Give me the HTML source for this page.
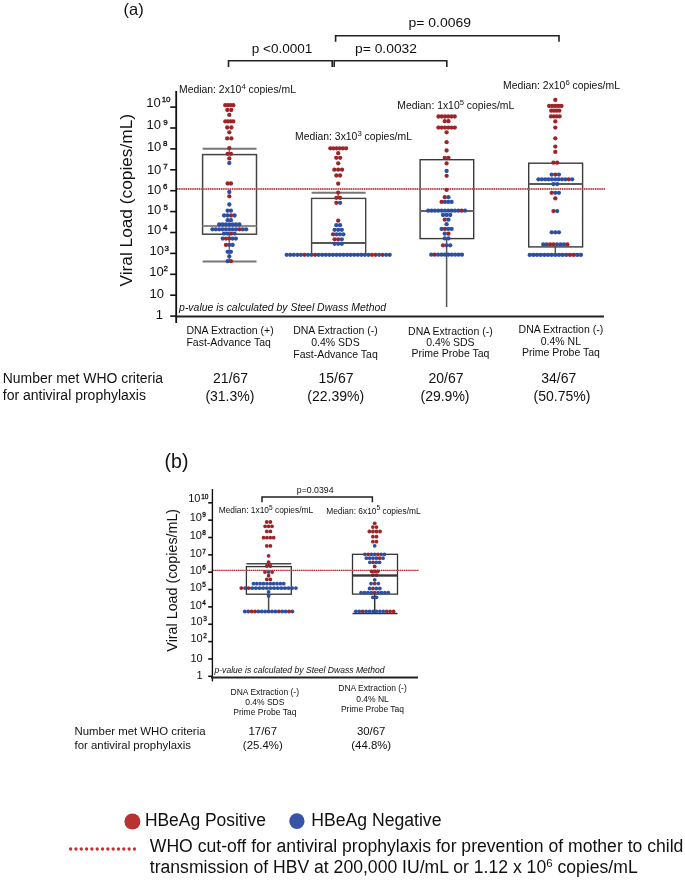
<!DOCTYPE html>
<html><head><meta charset="utf-8"><style>
html,body{margin:0;padding:0;background:#fff;}
body{width:685px;height:880px;overflow:hidden;}
svg{display:block;filter:blur(0.35px);font-family:"Liberation Sans", sans-serif;}
</style></head><body>
<svg width="685" height="880" viewBox="0 0 685 880">
<g fill="#111">
<text x="123.5" y="15.3" font-size="16.5">(a)</text>
<path d="M228.5 67.0 V60.8 H332.2 V67.0" fill="none" stroke="#222" stroke-width="1.6"/>
<path d="M334.2 67.0 V60.8 H446.8 V67.0" fill="none" stroke="#222" stroke-width="1.6"/>
<path d="M335.6 41.8 V35.8 H559.0 V41.8" fill="none" stroke="#222" stroke-width="1.6"/>
<text x="251.7" y="52.5" font-size="13.6" textLength="60.7" lengthAdjust="spacingAndGlyphs">p &lt;0.0001</text>
<text x="355.0" y="53.0" font-size="13.6" textLength="62.0" lengthAdjust="spacingAndGlyphs">p= 0.0032</text>
<text x="408.4" y="27.3" font-size="13.6" textLength="62.6" lengthAdjust="spacingAndGlyphs">p= 0.0069</text>
<text x="179.0" y="92.5" font-size="10.4">Median: 2x10<tspan dy="-4.0" font-size="7.7">4</tspan><tspan dy="4.0"> copies/mL</tspan></text>
<text x="295.0" y="139.6" font-size="10.4">Median: 3x10<tspan dy="-4.0" font-size="7.7">3</tspan><tspan dy="4.0"> copies/mL</tspan></text>
<text x="397.3" y="108.7" font-size="10.4">Median: 1x10<tspan dy="-4.0" font-size="7.7">5</tspan><tspan dy="4.0"> copies/mL</tspan></text>
<text x="503.0" y="89.0" font-size="10.4">Median: 2x10<tspan dy="-4.0" font-size="7.7">6</tspan><tspan dy="4.0"> copies/mL</tspan></text>
<line x1="176.2" y1="91" x2="176.2" y2="323" stroke="#111" stroke-width="1.8"/>
<line x1="170.2" y1="316.1" x2="176.2" y2="316.1" stroke="#111" stroke-width="1.6"/>
<line x1="170.2" y1="295.20000000000005" x2="176.2" y2="295.20000000000005" stroke="#111" stroke-width="1.6"/>
<line x1="170.2" y1="274.3" x2="176.2" y2="274.3" stroke="#111" stroke-width="1.6"/>
<line x1="170.2" y1="253.40000000000003" x2="176.2" y2="253.40000000000003" stroke="#111" stroke-width="1.6"/>
<line x1="170.2" y1="232.50000000000003" x2="176.2" y2="232.50000000000003" stroke="#111" stroke-width="1.6"/>
<line x1="170.2" y1="211.60000000000002" x2="176.2" y2="211.60000000000002" stroke="#111" stroke-width="1.6"/>
<line x1="170.2" y1="190.70000000000005" x2="176.2" y2="190.70000000000005" stroke="#111" stroke-width="1.6"/>
<line x1="170.2" y1="169.80000000000004" x2="176.2" y2="169.80000000000004" stroke="#111" stroke-width="1.6"/>
<line x1="170.2" y1="148.90000000000003" x2="176.2" y2="148.90000000000003" stroke="#111" stroke-width="1.6"/>
<line x1="170.2" y1="128.00000000000003" x2="176.2" y2="128.00000000000003" stroke="#111" stroke-width="1.6"/>
<line x1="170.2" y1="107.10000000000002" x2="176.2" y2="107.10000000000002" stroke="#111" stroke-width="1.6"/>
<text x="160.67" y="106.60" font-size="13.0" text-anchor="end">10</text>
<text x="161.63" y="102.02" font-size="8.0" stroke="#111" stroke-width="0.3">10</text>
<text x="160.97" y="129.40" font-size="13.0" text-anchor="end">10</text>
<text x="163.28" y="124.82" font-size="8.0" stroke="#111" stroke-width="0.3">9</text>
<text x="161.37" y="150.95" font-size="13.0" text-anchor="end">10</text>
<text x="162.88" y="146.37" font-size="8.0" stroke="#111" stroke-width="0.3">8</text>
<text x="161.37" y="173.50" font-size="13.0" text-anchor="end">10</text>
<text x="163.18" y="168.92" font-size="8.0" stroke="#111" stroke-width="0.3">7</text>
<text x="161.37" y="193.50" font-size="13.0" text-anchor="end">10</text>
<text x="162.88" y="188.92" font-size="8.0" stroke="#111" stroke-width="0.3">6</text>
<text x="161.37" y="214.25" font-size="13.0" text-anchor="end">10</text>
<text x="163.58" y="209.67" font-size="8.0" stroke="#111" stroke-width="0.3">5</text>
<text x="161.37" y="234.40" font-size="13.0" text-anchor="end">10</text>
<text x="162.88" y="229.82" font-size="8.0" stroke="#111" stroke-width="0.3">4</text>
<text x="164.07" y="255.16" font-size="13.0" text-anchor="end">10</text>
<text x="164.58" y="250.58" font-size="8.0" stroke="#111" stroke-width="0.3">3</text>
<text x="163.77" y="275.60" font-size="13.0" text-anchor="end">10</text>
<text x="163.58" y="271.02" font-size="8.0" stroke="#111" stroke-width="0.3">2</text>
<text x="164.07" y="298.10" font-size="13.0" text-anchor="end">10</text>
<text x="162.87" y="318.70" font-size="13.0" text-anchor="end">1</text>
<line x1="175" y1="316.6" x2="604" y2="316.6" stroke="#222" stroke-width="2"/>
<text transform="translate(132.3,200.25) rotate(-90)" font-size="17.3" text-anchor="middle">Viral Load (copies/mL)</text>
<text x="179.1" y="310.7" font-size="10.4" font-style="italic" textLength="207" lengthAdjust="spacingAndGlyphs">p-value is calculated by Steel Dwass Method</text>
<line x1="229.3" y1="148.8" x2="229.3" y2="154.6" stroke="#777" stroke-width="1.5"/>
<line x1="202.6" y1="148.8" x2="256.5" y2="148.8" stroke="#777" stroke-width="2"/>
<line x1="229.3" y1="234.2" x2="229.3" y2="261.4" stroke="#777" stroke-width="1.5"/>
<line x1="202.6" y1="261.4" x2="256.5" y2="261.4" stroke="#777" stroke-width="2"/>
<rect x="202.6" y="154.6" width="53.900000000000006" height="79.6" fill="none" stroke="#444" stroke-width="1.5"/>
<line x1="202.6" y1="226.0" x2="256.5" y2="226.0" stroke="#8a8a8a" stroke-width="2"/>
<line x1="338.2" y1="192.7" x2="338.2" y2="198.4" stroke="#777" stroke-width="1.5"/>
<line x1="311.6" y1="192.7" x2="365.7" y2="192.7" stroke="#777" stroke-width="2"/>
<line x1="338.2" y1="254.8" x2="338.2" y2="254.8" stroke="#777" stroke-width="1.5"/>
<line x1="311.6" y1="254.8" x2="365.7" y2="254.8" stroke="#777" stroke-width="2"/>
<rect x="311.6" y="198.4" width="54.099999999999966" height="56.400000000000006" fill="none" stroke="#444" stroke-width="1.4"/>
<line x1="311.6" y1="242.9" x2="365.7" y2="242.9" stroke="#555" stroke-width="2"/>
<line x1="446.6" y1="238.6" x2="446.6" y2="307.0" stroke="#555" stroke-width="1.5"/>
<rect x="420.1" y="159.7" width="53.599999999999966" height="78.9" fill="none" stroke="#3a3a3a" stroke-width="1.4"/>
<line x1="420.1" y1="211.0" x2="473.7" y2="211.0" stroke="#666" stroke-width="2"/>
<line x1="555.3" y1="246.9" x2="555.3" y2="254.5" stroke="#555" stroke-width="1.5"/>
<line x1="528.7" y1="254.5" x2="582.6" y2="254.5" stroke="#555" stroke-width="2"/>
<rect x="528.7" y="163.2" width="53.89999999999998" height="83.70000000000002" fill="none" stroke="#3a3a3a" stroke-width="1.4"/>
<line x1="528.7" y1="184.0" x2="582.6" y2="184.0" stroke="#5a5a5a" stroke-width="2"/>
<line x1="177" y1="189.0" x2="605" y2="189.0" stroke="#d88a8a" stroke-width="1.1"/>
<line x1="177" y1="189.0" x2="605" y2="189.0" stroke="#ab2428" stroke-width="1.4" stroke-dasharray="1.2 1"/>
</g>
<circle cx="225.30" cy="105.2" r="2.15" fill="#9e2428"/>
<circle cx="227.97" cy="105.2" r="2.15" fill="#9e2428"/>
<circle cx="230.63" cy="105.2" r="2.15" fill="#9e2428"/>
<circle cx="233.30" cy="105.2" r="2.15" fill="#9e2428"/>
<circle cx="227.35" cy="110.0" r="2.15" fill="#9e2428"/>
<circle cx="231.25" cy="110.0" r="2.15" fill="#9e2428"/>
<circle cx="229.30" cy="114.9" r="2.15" fill="#9e2428"/>
<circle cx="225.30" cy="121.4" r="2.15" fill="#9e2428"/>
<circle cx="227.97" cy="121.4" r="2.15" fill="#9e2428"/>
<circle cx="230.63" cy="121.4" r="2.15" fill="#9e2428"/>
<circle cx="233.30" cy="121.4" r="2.15" fill="#9e2428"/>
<circle cx="227.20" cy="127.5" r="2.15" fill="#9e2428"/>
<circle cx="231.40" cy="127.5" r="2.15" fill="#9e2428"/>
<circle cx="229.30" cy="132.3" r="2.15" fill="#9e2428"/>
<circle cx="227.20" cy="138.4" r="2.15" fill="#9e2428"/>
<circle cx="231.40" cy="138.4" r="2.15" fill="#9e2428"/>
<circle cx="229.30" cy="148.1" r="2.15" fill="#9e2428"/>
<circle cx="227.65" cy="153.8" r="2.15" fill="#9e2428"/>
<circle cx="230.95" cy="153.8" r="2.15" fill="#9e2428"/>
<circle cx="229.30" cy="158.4" r="2.15" fill="#9e2428"/>
<circle cx="229.30" cy="163.0" r="2.15" fill="#2c4fa3"/>
<circle cx="227.65" cy="183.5" r="2.15" fill="#9e2428"/>
<circle cx="230.95" cy="183.5" r="2.15" fill="#9e2428"/>
<circle cx="229.30" cy="192.0" r="2.15" fill="#2c4fa3"/>
<circle cx="229.30" cy="196.3" r="2.15" fill="#9e2428"/>
<circle cx="229.30" cy="204.5" r="2.15" fill="#2c4fa3"/>
<circle cx="227.65" cy="210.7" r="2.15" fill="#2c4fa3"/>
<circle cx="230.95" cy="210.7" r="2.15" fill="#2c4fa3"/>
<circle cx="224.05" cy="215.5" r="2.15" fill="#2c4fa3"/>
<circle cx="227.55" cy="215.5" r="2.15" fill="#2c4fa3"/>
<circle cx="231.05" cy="215.5" r="2.15" fill="#9e2428"/>
<circle cx="234.55" cy="215.5" r="2.15" fill="#2c4fa3"/>
<circle cx="227.65" cy="220.2" r="2.15" fill="#2c4fa3"/>
<circle cx="230.95" cy="220.2" r="2.15" fill="#2c4fa3"/>
<circle cx="219.20" cy="224.5" r="2.15" fill="#2c4fa3"/>
<circle cx="222.57" cy="224.5" r="2.15" fill="#2c4fa3"/>
<circle cx="225.93" cy="224.5" r="2.15" fill="#2c4fa3"/>
<circle cx="229.30" cy="224.5" r="2.15" fill="#2c4fa3"/>
<circle cx="232.67" cy="224.5" r="2.15" fill="#2c4fa3"/>
<circle cx="236.03" cy="224.5" r="2.15" fill="#2c4fa3"/>
<circle cx="239.40" cy="224.5" r="2.15" fill="#2c4fa3"/>
<circle cx="212.45" cy="229.3" r="2.15" fill="#2c4fa3"/>
<circle cx="215.82" cy="229.3" r="2.15" fill="#2c4fa3"/>
<circle cx="219.19" cy="229.3" r="2.15" fill="#2c4fa3"/>
<circle cx="222.56" cy="229.3" r="2.15" fill="#2c4fa3"/>
<circle cx="225.93" cy="229.3" r="2.15" fill="#2c4fa3"/>
<circle cx="229.30" cy="229.3" r="2.15" fill="#2c4fa3"/>
<circle cx="232.67" cy="229.3" r="2.15" fill="#2c4fa3"/>
<circle cx="236.04" cy="229.3" r="2.15" fill="#2c4fa3"/>
<circle cx="239.41" cy="229.3" r="2.15" fill="#9e2428"/>
<circle cx="242.78" cy="229.3" r="2.15" fill="#2c4fa3"/>
<circle cx="246.15" cy="229.3" r="2.15" fill="#2c4fa3"/>
<circle cx="224.05" cy="233.6" r="2.15" fill="#2c4fa3"/>
<circle cx="227.55" cy="233.6" r="2.15" fill="#2c4fa3"/>
<circle cx="231.05" cy="233.6" r="2.15" fill="#9e2428"/>
<circle cx="234.55" cy="233.6" r="2.15" fill="#2c4fa3"/>
<circle cx="222.75" cy="238.6" r="2.15" fill="#2c4fa3"/>
<circle cx="226.03" cy="238.6" r="2.15" fill="#9e2428"/>
<circle cx="229.30" cy="238.6" r="2.15" fill="#9e2428"/>
<circle cx="232.57" cy="238.6" r="2.15" fill="#2c4fa3"/>
<circle cx="235.85" cy="238.6" r="2.15" fill="#2c4fa3"/>
<circle cx="225.95" cy="244.9" r="2.15" fill="#9e2428"/>
<circle cx="229.30" cy="244.9" r="2.15" fill="#2c4fa3"/>
<circle cx="232.65" cy="244.9" r="2.15" fill="#2c4fa3"/>
<circle cx="227.65" cy="251.8" r="2.15" fill="#2c4fa3"/>
<circle cx="230.95" cy="251.8" r="2.15" fill="#2c4fa3"/>
<circle cx="229.30" cy="256.4" r="2.15" fill="#2c4fa3"/>
<circle cx="227.65" cy="261.2" r="2.15" fill="#2c4fa3"/>
<circle cx="230.95" cy="261.2" r="2.15" fill="#9e2428"/>
<circle cx="330.35" cy="148.3" r="2.15" fill="#9e2428"/>
<circle cx="333.49" cy="148.3" r="2.15" fill="#9e2428"/>
<circle cx="336.63" cy="148.3" r="2.15" fill="#9e2428"/>
<circle cx="339.77" cy="148.3" r="2.15" fill="#9e2428"/>
<circle cx="342.91" cy="148.3" r="2.15" fill="#9e2428"/>
<circle cx="346.05" cy="148.3" r="2.15" fill="#9e2428"/>
<circle cx="338.20" cy="153.2" r="2.15" fill="#9e2428"/>
<circle cx="336.25" cy="157.8" r="2.15" fill="#9e2428"/>
<circle cx="340.15" cy="157.8" r="2.15" fill="#9e2428"/>
<circle cx="338.20" cy="163.3" r="2.15" fill="#9e2428"/>
<circle cx="334.35" cy="169.7" r="2.15" fill="#9e2428"/>
<circle cx="338.20" cy="169.7" r="2.15" fill="#9e2428"/>
<circle cx="342.05" cy="169.7" r="2.15" fill="#9e2428"/>
<circle cx="336.35" cy="175.5" r="2.15" fill="#9e2428"/>
<circle cx="340.05" cy="175.5" r="2.15" fill="#9e2428"/>
<circle cx="338.20" cy="183.7" r="2.15" fill="#9e2428"/>
<circle cx="338.20" cy="192.6" r="2.15" fill="#9e2428"/>
<circle cx="336.35" cy="197.8" r="2.15" fill="#9e2428"/>
<circle cx="340.05" cy="197.8" r="2.15" fill="#9e2428"/>
<circle cx="336.35" cy="202.8" r="2.15" fill="#9e2428"/>
<circle cx="340.05" cy="202.8" r="2.15" fill="#2c4fa3"/>
<circle cx="338.20" cy="220.7" r="2.15" fill="#9e2428"/>
<circle cx="336.35" cy="225.2" r="2.15" fill="#2c4fa3"/>
<circle cx="340.05" cy="225.2" r="2.15" fill="#2c4fa3"/>
<circle cx="334.60" cy="229.8" r="2.15" fill="#2c4fa3"/>
<circle cx="338.20" cy="229.8" r="2.15" fill="#2c4fa3"/>
<circle cx="341.80" cy="229.8" r="2.15" fill="#2c4fa3"/>
<circle cx="333.05" cy="234.3" r="2.15" fill="#9e2428"/>
<circle cx="336.48" cy="234.3" r="2.15" fill="#2c4fa3"/>
<circle cx="339.92" cy="234.3" r="2.15" fill="#2c4fa3"/>
<circle cx="343.35" cy="234.3" r="2.15" fill="#2c4fa3"/>
<circle cx="334.60" cy="239.3" r="2.15" fill="#9e2428"/>
<circle cx="338.20" cy="239.3" r="2.15" fill="#9e2428"/>
<circle cx="341.80" cy="239.3" r="2.15" fill="#2c4fa3"/>
<circle cx="334.60" cy="243.8" r="2.15" fill="#2c4fa3"/>
<circle cx="338.20" cy="243.8" r="2.15" fill="#2c4fa3"/>
<circle cx="341.80" cy="243.8" r="2.15" fill="#2c4fa3"/>
<circle cx="286.70" cy="254.8" r="2.15" fill="#2c4fa3"/>
<circle cx="290.25" cy="254.8" r="2.15" fill="#2c4fa3"/>
<circle cx="293.80" cy="254.8" r="2.15" fill="#2c4fa3"/>
<circle cx="297.36" cy="254.8" r="2.15" fill="#2c4fa3"/>
<circle cx="300.91" cy="254.8" r="2.15" fill="#2c4fa3"/>
<circle cx="304.46" cy="254.8" r="2.15" fill="#9e2428"/>
<circle cx="308.01" cy="254.8" r="2.15" fill="#2c4fa3"/>
<circle cx="311.56" cy="254.8" r="2.15" fill="#2c4fa3"/>
<circle cx="315.11" cy="254.8" r="2.15" fill="#9e2428"/>
<circle cx="318.67" cy="254.8" r="2.15" fill="#2c4fa3"/>
<circle cx="322.22" cy="254.8" r="2.15" fill="#2c4fa3"/>
<circle cx="325.77" cy="254.8" r="2.15" fill="#2c4fa3"/>
<circle cx="329.32" cy="254.8" r="2.15" fill="#2c4fa3"/>
<circle cx="332.87" cy="254.8" r="2.15" fill="#2c4fa3"/>
<circle cx="336.42" cy="254.8" r="2.15" fill="#2c4fa3"/>
<circle cx="339.98" cy="254.8" r="2.15" fill="#2c4fa3"/>
<circle cx="343.53" cy="254.8" r="2.15" fill="#2c4fa3"/>
<circle cx="347.08" cy="254.8" r="2.15" fill="#2c4fa3"/>
<circle cx="350.63" cy="254.8" r="2.15" fill="#2c4fa3"/>
<circle cx="354.18" cy="254.8" r="2.15" fill="#2c4fa3"/>
<circle cx="357.73" cy="254.8" r="2.15" fill="#2c4fa3"/>
<circle cx="361.29" cy="254.8" r="2.15" fill="#2c4fa3"/>
<circle cx="364.84" cy="254.8" r="2.15" fill="#2c4fa3"/>
<circle cx="368.39" cy="254.8" r="2.15" fill="#2c4fa3"/>
<circle cx="371.94" cy="254.8" r="2.15" fill="#9e2428"/>
<circle cx="375.49" cy="254.8" r="2.15" fill="#9e2428"/>
<circle cx="379.04" cy="254.8" r="2.15" fill="#2c4fa3"/>
<circle cx="382.60" cy="254.8" r="2.15" fill="#9e2428"/>
<circle cx="386.15" cy="254.8" r="2.15" fill="#2c4fa3"/>
<circle cx="389.70" cy="254.8" r="2.15" fill="#2c4fa3"/>
<circle cx="438.50" cy="116.5" r="2.15" fill="#9e2428"/>
<circle cx="441.74" cy="116.5" r="2.15" fill="#9e2428"/>
<circle cx="444.98" cy="116.5" r="2.15" fill="#9e2428"/>
<circle cx="448.22" cy="116.5" r="2.15" fill="#9e2428"/>
<circle cx="451.46" cy="116.5" r="2.15" fill="#9e2428"/>
<circle cx="454.70" cy="116.5" r="2.15" fill="#9e2428"/>
<circle cx="444.75" cy="121.2" r="2.15" fill="#9e2428"/>
<circle cx="448.45" cy="121.2" r="2.15" fill="#9e2428"/>
<circle cx="438.40" cy="127.6" r="2.15" fill="#9e2428"/>
<circle cx="441.68" cy="127.6" r="2.15" fill="#9e2428"/>
<circle cx="444.96" cy="127.6" r="2.15" fill="#9e2428"/>
<circle cx="448.24" cy="127.6" r="2.15" fill="#9e2428"/>
<circle cx="451.52" cy="127.6" r="2.15" fill="#9e2428"/>
<circle cx="454.80" cy="127.6" r="2.15" fill="#9e2428"/>
<circle cx="446.60" cy="132.3" r="2.15" fill="#9e2428"/>
<circle cx="446.60" cy="142.2" r="2.15" fill="#9e2428"/>
<circle cx="446.60" cy="150.5" r="2.15" fill="#9e2428"/>
<circle cx="444.75" cy="157.8" r="2.15" fill="#9e2428"/>
<circle cx="448.45" cy="157.8" r="2.15" fill="#9e2428"/>
<circle cx="446.60" cy="163.4" r="2.15" fill="#9e2428"/>
<circle cx="446.60" cy="171.0" r="2.15" fill="#2c4fa3"/>
<circle cx="446.60" cy="175.8" r="2.15" fill="#9e2428"/>
<circle cx="446.60" cy="189.9" r="2.15" fill="#9e2428"/>
<circle cx="444.75" cy="197.2" r="2.15" fill="#9e2428"/>
<circle cx="448.45" cy="197.2" r="2.15" fill="#2c4fa3"/>
<circle cx="441.60" cy="201.9" r="2.15" fill="#9e2428"/>
<circle cx="444.93" cy="201.9" r="2.15" fill="#2c4fa3"/>
<circle cx="448.27" cy="201.9" r="2.15" fill="#2c4fa3"/>
<circle cx="451.60" cy="201.9" r="2.15" fill="#2c4fa3"/>
<circle cx="428.20" cy="210.7" r="2.15" fill="#2c4fa3"/>
<circle cx="431.55" cy="210.7" r="2.15" fill="#2c4fa3"/>
<circle cx="434.89" cy="210.7" r="2.15" fill="#2c4fa3"/>
<circle cx="438.24" cy="210.7" r="2.15" fill="#2c4fa3"/>
<circle cx="441.58" cy="210.7" r="2.15" fill="#2c4fa3"/>
<circle cx="444.93" cy="210.7" r="2.15" fill="#2c4fa3"/>
<circle cx="448.27" cy="210.7" r="2.15" fill="#2c4fa3"/>
<circle cx="451.62" cy="210.7" r="2.15" fill="#2c4fa3"/>
<circle cx="454.96" cy="210.7" r="2.15" fill="#2c4fa3"/>
<circle cx="458.31" cy="210.7" r="2.15" fill="#2c4fa3"/>
<circle cx="461.65" cy="210.7" r="2.15" fill="#9e2428"/>
<circle cx="465.00" cy="210.7" r="2.15" fill="#2c4fa3"/>
<circle cx="443.00" cy="215.0" r="2.15" fill="#2c4fa3"/>
<circle cx="446.60" cy="215.0" r="2.15" fill="#2c4fa3"/>
<circle cx="450.20" cy="215.0" r="2.15" fill="#2c4fa3"/>
<circle cx="444.75" cy="219.7" r="2.15" fill="#9e2428"/>
<circle cx="448.45" cy="219.7" r="2.15" fill="#2c4fa3"/>
<circle cx="446.60" cy="224.2" r="2.15" fill="#2c4fa3"/>
<circle cx="441.60" cy="228.9" r="2.15" fill="#2c4fa3"/>
<circle cx="444.93" cy="228.9" r="2.15" fill="#9e2428"/>
<circle cx="448.27" cy="228.9" r="2.15" fill="#2c4fa3"/>
<circle cx="451.60" cy="228.9" r="2.15" fill="#2c4fa3"/>
<circle cx="444.75" cy="233.7" r="2.15" fill="#2c4fa3"/>
<circle cx="448.45" cy="233.7" r="2.15" fill="#9e2428"/>
<circle cx="444.75" cy="238.4" r="2.15" fill="#2c4fa3"/>
<circle cx="448.45" cy="238.4" r="2.15" fill="#2c4fa3"/>
<circle cx="443.00" cy="245.3" r="2.15" fill="#9e2428"/>
<circle cx="446.60" cy="245.3" r="2.15" fill="#2c4fa3"/>
<circle cx="450.20" cy="245.3" r="2.15" fill="#2c4fa3"/>
<circle cx="431.25" cy="254.7" r="2.15" fill="#2c4fa3"/>
<circle cx="434.66" cy="254.7" r="2.15" fill="#9e2428"/>
<circle cx="438.07" cy="254.7" r="2.15" fill="#2c4fa3"/>
<circle cx="441.48" cy="254.7" r="2.15" fill="#2c4fa3"/>
<circle cx="444.89" cy="254.7" r="2.15" fill="#2c4fa3"/>
<circle cx="448.31" cy="254.7" r="2.15" fill="#2c4fa3"/>
<circle cx="451.72" cy="254.7" r="2.15" fill="#2c4fa3"/>
<circle cx="455.13" cy="254.7" r="2.15" fill="#2c4fa3"/>
<circle cx="458.54" cy="254.7" r="2.15" fill="#2c4fa3"/>
<circle cx="461.95" cy="254.7" r="2.15" fill="#2c4fa3"/>
<circle cx="555.30" cy="99.9" r="2.15" fill="#9e2428"/>
<circle cx="549.15" cy="106.0" r="2.15" fill="#9e2428"/>
<circle cx="552.22" cy="106.0" r="2.15" fill="#9e2428"/>
<circle cx="555.30" cy="106.0" r="2.15" fill="#9e2428"/>
<circle cx="558.38" cy="106.0" r="2.15" fill="#9e2428"/>
<circle cx="561.45" cy="106.0" r="2.15" fill="#9e2428"/>
<circle cx="551.25" cy="110.7" r="2.15" fill="#9e2428"/>
<circle cx="553.95" cy="110.7" r="2.15" fill="#9e2428"/>
<circle cx="556.65" cy="110.7" r="2.15" fill="#9e2428"/>
<circle cx="559.35" cy="110.7" r="2.15" fill="#9e2428"/>
<circle cx="551.00" cy="116.4" r="2.15" fill="#9e2428"/>
<circle cx="553.87" cy="116.4" r="2.15" fill="#9e2428"/>
<circle cx="556.73" cy="116.4" r="2.15" fill="#9e2428"/>
<circle cx="559.60" cy="116.4" r="2.15" fill="#9e2428"/>
<circle cx="555.30" cy="121.4" r="2.15" fill="#9e2428"/>
<circle cx="555.30" cy="127.6" r="2.15" fill="#9e2428"/>
<circle cx="555.30" cy="138.3" r="2.15" fill="#9e2428"/>
<circle cx="555.30" cy="146.6" r="2.15" fill="#9e2428"/>
<circle cx="555.30" cy="151.9" r="2.15" fill="#9e2428"/>
<circle cx="553.45" cy="162.7" r="2.15" fill="#9e2428"/>
<circle cx="557.15" cy="162.7" r="2.15" fill="#9e2428"/>
<circle cx="551.70" cy="174.6" r="2.15" fill="#2c4fa3"/>
<circle cx="555.30" cy="174.6" r="2.15" fill="#9e2428"/>
<circle cx="558.90" cy="174.6" r="2.15" fill="#2c4fa3"/>
<circle cx="538.45" cy="179.3" r="2.15" fill="#2c4fa3"/>
<circle cx="541.82" cy="179.3" r="2.15" fill="#2c4fa3"/>
<circle cx="545.19" cy="179.3" r="2.15" fill="#2c4fa3"/>
<circle cx="548.56" cy="179.3" r="2.15" fill="#2c4fa3"/>
<circle cx="551.93" cy="179.3" r="2.15" fill="#2c4fa3"/>
<circle cx="555.30" cy="179.3" r="2.15" fill="#2c4fa3"/>
<circle cx="558.67" cy="179.3" r="2.15" fill="#2c4fa3"/>
<circle cx="562.04" cy="179.3" r="2.15" fill="#2c4fa3"/>
<circle cx="565.41" cy="179.3" r="2.15" fill="#2c4fa3"/>
<circle cx="568.78" cy="179.3" r="2.15" fill="#9e2428"/>
<circle cx="572.15" cy="179.3" r="2.15" fill="#2c4fa3"/>
<circle cx="553.45" cy="184.1" r="2.15" fill="#2c4fa3"/>
<circle cx="557.15" cy="184.1" r="2.15" fill="#2c4fa3"/>
<circle cx="551.70" cy="192.8" r="2.15" fill="#9e2428"/>
<circle cx="555.30" cy="192.8" r="2.15" fill="#2c4fa3"/>
<circle cx="558.90" cy="192.8" r="2.15" fill="#2c4fa3"/>
<circle cx="555.30" cy="198.4" r="2.15" fill="#9e2428"/>
<circle cx="553.45" cy="211.1" r="2.15" fill="#9e2428"/>
<circle cx="557.15" cy="211.1" r="2.15" fill="#2c4fa3"/>
<circle cx="551.70" cy="232.3" r="2.15" fill="#2c4fa3"/>
<circle cx="555.30" cy="232.3" r="2.15" fill="#2c4fa3"/>
<circle cx="558.90" cy="232.3" r="2.15" fill="#2c4fa3"/>
<circle cx="543.20" cy="244.4" r="2.15" fill="#2c4fa3"/>
<circle cx="546.66" cy="244.4" r="2.15" fill="#2c4fa3"/>
<circle cx="550.11" cy="244.4" r="2.15" fill="#9e2428"/>
<circle cx="553.57" cy="244.4" r="2.15" fill="#9e2428"/>
<circle cx="557.03" cy="244.4" r="2.15" fill="#2c4fa3"/>
<circle cx="560.49" cy="244.4" r="2.15" fill="#2c4fa3"/>
<circle cx="563.94" cy="244.4" r="2.15" fill="#2c4fa3"/>
<circle cx="567.40" cy="244.4" r="2.15" fill="#9e2428"/>
<circle cx="529.70" cy="254.9" r="2.15" fill="#2c4fa3"/>
<circle cx="533.36" cy="254.9" r="2.15" fill="#2c4fa3"/>
<circle cx="537.01" cy="254.9" r="2.15" fill="#2c4fa3"/>
<circle cx="540.67" cy="254.9" r="2.15" fill="#2c4fa3"/>
<circle cx="544.33" cy="254.9" r="2.15" fill="#2c4fa3"/>
<circle cx="547.99" cy="254.9" r="2.15" fill="#2c4fa3"/>
<circle cx="551.64" cy="254.9" r="2.15" fill="#2c4fa3"/>
<circle cx="555.30" cy="254.9" r="2.15" fill="#2c4fa3"/>
<circle cx="558.96" cy="254.9" r="2.15" fill="#2c4fa3"/>
<circle cx="562.61" cy="254.9" r="2.15" fill="#2c4fa3"/>
<circle cx="566.27" cy="254.9" r="2.15" fill="#2c4fa3"/>
<circle cx="569.93" cy="254.9" r="2.15" fill="#9e2428"/>
<circle cx="573.59" cy="254.9" r="2.15" fill="#9e2428"/>
<circle cx="577.24" cy="254.9" r="2.15" fill="#2c4fa3"/>
<circle cx="580.90" cy="254.9" r="2.15" fill="#2c4fa3"/>
<g fill="#111">
<text x="186.4" y="334.0" font-size="10.5">DNA Extraction (+)</text>
<text x="186.4" y="346.3" font-size="10.5">Fast-Advance Taq</text>
<text x="335.5" y="334.4" font-size="10.5" text-anchor="middle">DNA Extraction (-)</text>
<text x="335.5" y="346.1" font-size="10.5" text-anchor="middle">0.4% SDS</text>
<text x="335.5" y="358.2" font-size="10.5" text-anchor="middle">Fast-Advance Taq</text>
<text x="450.4" y="334.5" font-size="10.5" text-anchor="middle">DNA Extraction (-)</text>
<text x="450.4" y="345.9" font-size="10.5" text-anchor="middle">0.4% SDS</text>
<text x="450.4" y="357.2" font-size="10.5" text-anchor="middle">Prime Probe Taq</text>
<text x="560.9" y="332.9" font-size="10.5" text-anchor="middle">DNA Extraction (-)</text>
<text x="560.9" y="344.7" font-size="10.5" text-anchor="middle">0.4% NL</text>
<text x="560.9" y="356.2" font-size="10.5" text-anchor="middle">Prime Probe Taq</text>
<text x="2.8" y="382.6" font-size="14" textLength="160.2" lengthAdjust="spacingAndGlyphs">Number met WHO criteria</text>
<text x="2.8" y="400.0" font-size="14">for antiviral prophylaxis</text>
<text x="230.6" y="382.9" font-size="14" text-anchor="middle">21/67</text>
<text x="229.9" y="400.6" font-size="14" text-anchor="middle">(31.3%)</text>
<text x="336.0" y="382.9" font-size="14" text-anchor="middle">15/67</text>
<text x="335.7" y="400.6" font-size="14" text-anchor="middle">(22.39%)</text>
<text x="446.0" y="382.9" font-size="14" text-anchor="middle">20/67</text>
<text x="445.0" y="400.6" font-size="14" text-anchor="middle">(29.9%)</text>
<text x="558.8" y="382.9" font-size="14" text-anchor="middle">34/67</text>
<text x="562.0" y="400.6" font-size="14" text-anchor="middle">(50.75%)</text>
<text x="164.6" y="467.7" font-size="19.5">(b)</text>
<path d="M262.0 502.2 V497.0 H372.4 V502.2" fill="none" stroke="#222" stroke-width="1.5"/>
<text x="296.8" y="493.1" font-size="9.9" textLength="36.8" lengthAdjust="spacingAndGlyphs">p=0.0394</text>
<text x="218.7" y="512.8" font-size="8.4">Median: 1x10<tspan dy="-3.2" font-size="6.6">5</tspan><tspan dy="3.2"> copies/mL</tspan></text>
<text x="326.2" y="513.6" font-size="8.4">Median: 6x10<tspan dy="-3.2" font-size="6.6">5</tspan><tspan dy="3.2"> copies/mL</tspan></text>
<line x1="212.4" y1="489" x2="212.4" y2="681.4" stroke="#111" stroke-width="1.4"/>
<line x1="208.20000000000002" y1="676.3" x2="212.4" y2="676.3" stroke="#111" stroke-width="1.6"/>
<line x1="208.20000000000002" y1="658.9499999999999" x2="212.4" y2="658.9499999999999" stroke="#111" stroke-width="1.6"/>
<line x1="208.20000000000002" y1="641.5999999999999" x2="212.4" y2="641.5999999999999" stroke="#111" stroke-width="1.6"/>
<line x1="208.20000000000002" y1="624.25" x2="212.4" y2="624.25" stroke="#111" stroke-width="1.6"/>
<line x1="208.20000000000002" y1="606.9" x2="212.4" y2="606.9" stroke="#111" stroke-width="1.6"/>
<line x1="208.20000000000002" y1="589.55" x2="212.4" y2="589.55" stroke="#111" stroke-width="1.6"/>
<line x1="208.20000000000002" y1="572.1999999999999" x2="212.4" y2="572.1999999999999" stroke="#111" stroke-width="1.6"/>
<line x1="208.20000000000002" y1="554.8499999999999" x2="212.4" y2="554.8499999999999" stroke="#111" stroke-width="1.6"/>
<line x1="208.20000000000002" y1="537.5" x2="212.4" y2="537.5" stroke="#111" stroke-width="1.6"/>
<line x1="208.20000000000002" y1="520.15" x2="212.4" y2="520.15" stroke="#111" stroke-width="1.6"/>
<line x1="208.20000000000002" y1="502.79999999999995" x2="212.4" y2="502.79999999999995" stroke="#111" stroke-width="1.6"/>
<text x="200.38" y="502.30" font-size="11" text-anchor="end">10</text>
<text x="201.19" y="498.58" font-size="6.5" stroke="#111" stroke-width="0.3">10</text>
<text x="202.68" y="678.70" font-size="11" text-anchor="end">1</text>
<text x="202.68" y="661.60" font-size="11" text-anchor="end">10</text>
<text x="202.68" y="642.00" font-size="11" text-anchor="end">10</text>
<text x="203.24" y="638.28" font-size="6.5" stroke="#111" stroke-width="0.3">2</text>
<text x="202.68" y="624.90" font-size="11" text-anchor="end">10</text>
<text x="203.24" y="621.18" font-size="6.5" stroke="#111" stroke-width="0.3">3</text>
<text x="201.88" y="608.60" font-size="11" text-anchor="end">10</text>
<text x="202.24" y="604.88" font-size="6.5" stroke="#111" stroke-width="0.3">4</text>
<text x="201.88" y="591.20" font-size="11" text-anchor="end">10</text>
<text x="202.24" y="587.48" font-size="6.5" stroke="#111" stroke-width="0.3">5</text>
<text x="201.88" y="573.60" font-size="11" text-anchor="end">10</text>
<text x="202.24" y="569.88" font-size="6.5" stroke="#111" stroke-width="0.3">6</text>
<text x="201.88" y="557.40" font-size="11" text-anchor="end">10</text>
<text x="202.24" y="553.68" font-size="6.5" stroke="#111" stroke-width="0.3">7</text>
<text x="201.88" y="538.90" font-size="11" text-anchor="end">10</text>
<text x="202.24" y="535.18" font-size="6.5" stroke="#111" stroke-width="0.3">8</text>
<text x="201.88" y="520.90" font-size="11" text-anchor="end">10</text>
<text x="202.24" y="517.18" font-size="6.5" stroke="#111" stroke-width="0.3">9</text>
<line x1="211" y1="677.4" x2="418" y2="677.4" stroke="#222" stroke-width="2"/>
<text transform="translate(177.3,580.25) rotate(-90)" font-size="14.3" text-anchor="middle">Viral Load (copies/mL)</text>
<text x="214.5" y="672.6" font-size="8.5" font-style="italic" textLength="170" lengthAdjust="spacingAndGlyphs">p-value is calculated by Steel Dwass Method</text>
<line x1="268.6" y1="563.7" x2="268.6" y2="566.6" stroke="#4a4a4a" stroke-width="1.5"/>
<line x1="246.4" y1="563.7" x2="291.3" y2="563.7" stroke="#4a4a4a" stroke-width="1.4"/>
<line x1="268.6" y1="594.2" x2="268.6" y2="611.5" stroke="#4a4a4a" stroke-width="1.5"/>
<line x1="246.4" y1="611.5" x2="291.3" y2="611.5" stroke="#4a4a4a" stroke-width="1.4"/>
<rect x="246.4" y="566.6" width="44.900000000000006" height="27.600000000000023" fill="none" stroke="#333" stroke-width="1.3"/>
<line x1="246.4" y1="588.3" x2="291.3" y2="588.3" stroke="#444" stroke-width="2"/>
<line x1="374.7" y1="594.1" x2="374.7" y2="613.4" stroke="#333" stroke-width="1.5"/>
<line x1="352.5" y1="613.4" x2="397.5" y2="613.4" stroke="#333" stroke-width="1.5"/>
<rect x="352.5" y="554.3" width="45.0" height="39.80000000000007" fill="none" stroke="#333" stroke-width="1.3"/>
<line x1="352.5" y1="575.5" x2="397.5" y2="575.5" stroke="#444" stroke-width="2"/>
<line x1="213" y1="570.4" x2="419" y2="570.4" stroke="#d88a8a" stroke-width="1"/>
<line x1="213" y1="570.4" x2="419" y2="570.4" stroke="#ab2428" stroke-width="1.3" stroke-dasharray="1.1 1"/>
</g>
<circle cx="266.80" cy="522.0" r="1.9" fill="#9e2428"/>
<circle cx="270.40" cy="522.0" r="1.9" fill="#9e2428"/>
<circle cx="265.20" cy="526.3" r="1.9" fill="#9e2428"/>
<circle cx="268.60" cy="526.3" r="1.9" fill="#9e2428"/>
<circle cx="272.00" cy="526.3" r="1.9" fill="#9e2428"/>
<circle cx="266.80" cy="531.4" r="1.9" fill="#9e2428"/>
<circle cx="270.40" cy="531.4" r="1.9" fill="#9e2428"/>
<circle cx="263.55" cy="537.7" r="1.9" fill="#9e2428"/>
<circle cx="266.92" cy="537.7" r="1.9" fill="#9e2428"/>
<circle cx="270.28" cy="537.7" r="1.9" fill="#9e2428"/>
<circle cx="273.65" cy="537.7" r="1.9" fill="#9e2428"/>
<circle cx="266.80" cy="545.9" r="1.9" fill="#9e2428"/>
<circle cx="270.40" cy="545.9" r="1.9" fill="#9e2428"/>
<circle cx="268.60" cy="555.8" r="1.9" fill="#9e2428"/>
<circle cx="268.60" cy="562.1" r="1.9" fill="#9e2428"/>
<circle cx="266.80" cy="566.0" r="1.9" fill="#9e2428"/>
<circle cx="270.40" cy="566.0" r="1.9" fill="#9e2428"/>
<circle cx="265.00" cy="572.1" r="1.9" fill="#9e2428"/>
<circle cx="268.60" cy="572.1" r="1.9" fill="#2c4fa3"/>
<circle cx="272.20" cy="572.1" r="1.9" fill="#9e2428"/>
<circle cx="268.60" cy="575.7" r="1.9" fill="#9e2428"/>
<circle cx="266.80" cy="579.4" r="1.9" fill="#9e2428"/>
<circle cx="270.40" cy="579.4" r="1.9" fill="#9e2428"/>
<circle cx="253.50" cy="583.7" r="1.9" fill="#2c4fa3"/>
<circle cx="256.86" cy="583.7" r="1.9" fill="#2c4fa3"/>
<circle cx="260.21" cy="583.7" r="1.9" fill="#2c4fa3"/>
<circle cx="263.57" cy="583.7" r="1.9" fill="#2c4fa3"/>
<circle cx="266.92" cy="583.7" r="1.9" fill="#2c4fa3"/>
<circle cx="270.28" cy="583.7" r="1.9" fill="#2c4fa3"/>
<circle cx="273.63" cy="583.7" r="1.9" fill="#2c4fa3"/>
<circle cx="276.99" cy="583.7" r="1.9" fill="#2c4fa3"/>
<circle cx="280.34" cy="583.7" r="1.9" fill="#2c4fa3"/>
<circle cx="283.70" cy="583.7" r="1.9" fill="#2c4fa3"/>
<circle cx="241.30" cy="588.1" r="1.9" fill="#9e2428"/>
<circle cx="244.94" cy="588.1" r="1.9" fill="#2c4fa3"/>
<circle cx="248.58" cy="588.1" r="1.9" fill="#9e2428"/>
<circle cx="252.22" cy="588.1" r="1.9" fill="#2c4fa3"/>
<circle cx="255.86" cy="588.1" r="1.9" fill="#2c4fa3"/>
<circle cx="259.50" cy="588.1" r="1.9" fill="#2c4fa3"/>
<circle cx="263.14" cy="588.1" r="1.9" fill="#2c4fa3"/>
<circle cx="266.78" cy="588.1" r="1.9" fill="#2c4fa3"/>
<circle cx="270.42" cy="588.1" r="1.9" fill="#2c4fa3"/>
<circle cx="274.06" cy="588.1" r="1.9" fill="#2c4fa3"/>
<circle cx="277.70" cy="588.1" r="1.9" fill="#2c4fa3"/>
<circle cx="281.34" cy="588.1" r="1.9" fill="#2c4fa3"/>
<circle cx="284.98" cy="588.1" r="1.9" fill="#2c4fa3"/>
<circle cx="288.62" cy="588.1" r="1.9" fill="#2c4fa3"/>
<circle cx="292.26" cy="588.1" r="1.9" fill="#2c4fa3"/>
<circle cx="295.90" cy="588.1" r="1.9" fill="#2c4fa3"/>
<circle cx="268.60" cy="592.0" r="1.9" fill="#2c4fa3"/>
<circle cx="268.60" cy="595.9" r="1.9" fill="#2c4fa3"/>
<circle cx="244.80" cy="611.5" r="1.9" fill="#2c4fa3"/>
<circle cx="248.20" cy="611.5" r="1.9" fill="#2c4fa3"/>
<circle cx="251.60" cy="611.5" r="1.9" fill="#9e2428"/>
<circle cx="255.00" cy="611.5" r="1.9" fill="#9e2428"/>
<circle cx="258.40" cy="611.5" r="1.9" fill="#2c4fa3"/>
<circle cx="261.80" cy="611.5" r="1.9" fill="#2c4fa3"/>
<circle cx="265.20" cy="611.5" r="1.9" fill="#2c4fa3"/>
<circle cx="268.60" cy="611.5" r="1.9" fill="#2c4fa3"/>
<circle cx="272.00" cy="611.5" r="1.9" fill="#2c4fa3"/>
<circle cx="275.40" cy="611.5" r="1.9" fill="#2c4fa3"/>
<circle cx="278.80" cy="611.5" r="1.9" fill="#9e2428"/>
<circle cx="282.20" cy="611.5" r="1.9" fill="#2c4fa3"/>
<circle cx="285.60" cy="611.5" r="1.9" fill="#2c4fa3"/>
<circle cx="289.00" cy="611.5" r="1.9" fill="#9e2428"/>
<circle cx="292.40" cy="611.5" r="1.9" fill="#2c4fa3"/>
<circle cx="374.70" cy="523.3" r="1.9" fill="#9e2428"/>
<circle cx="372.90" cy="527.1" r="1.9" fill="#9e2428"/>
<circle cx="376.50" cy="527.1" r="1.9" fill="#9e2428"/>
<circle cx="369.40" cy="531.5" r="1.9" fill="#9e2428"/>
<circle cx="372.93" cy="531.5" r="1.9" fill="#9e2428"/>
<circle cx="376.47" cy="531.5" r="1.9" fill="#9e2428"/>
<circle cx="380.00" cy="531.5" r="1.9" fill="#9e2428"/>
<circle cx="372.90" cy="536.7" r="1.9" fill="#9e2428"/>
<circle cx="376.50" cy="536.7" r="1.9" fill="#9e2428"/>
<circle cx="372.90" cy="541.7" r="1.9" fill="#9e2428"/>
<circle cx="376.50" cy="541.7" r="1.9" fill="#9e2428"/>
<circle cx="374.70" cy="545.8" r="1.9" fill="#2c4fa3"/>
<circle cx="364.95" cy="554.3" r="1.9" fill="#2c4fa3"/>
<circle cx="368.20" cy="554.3" r="1.9" fill="#9e2428"/>
<circle cx="371.45" cy="554.3" r="1.9" fill="#2c4fa3"/>
<circle cx="374.70" cy="554.3" r="1.9" fill="#2c4fa3"/>
<circle cx="377.95" cy="554.3" r="1.9" fill="#9e2428"/>
<circle cx="381.20" cy="554.3" r="1.9" fill="#2c4fa3"/>
<circle cx="384.45" cy="554.3" r="1.9" fill="#2c4fa3"/>
<circle cx="366.40" cy="558.2" r="1.9" fill="#2c4fa3"/>
<circle cx="369.72" cy="558.2" r="1.9" fill="#2c4fa3"/>
<circle cx="373.04" cy="558.2" r="1.9" fill="#2c4fa3"/>
<circle cx="376.36" cy="558.2" r="1.9" fill="#2c4fa3"/>
<circle cx="379.68" cy="558.2" r="1.9" fill="#9e2428"/>
<circle cx="383.00" cy="558.2" r="1.9" fill="#2c4fa3"/>
<circle cx="369.90" cy="562.3" r="1.9" fill="#2c4fa3"/>
<circle cx="373.10" cy="562.3" r="1.9" fill="#9e2428"/>
<circle cx="376.30" cy="562.3" r="1.9" fill="#2c4fa3"/>
<circle cx="379.50" cy="562.3" r="1.9" fill="#2c4fa3"/>
<circle cx="374.70" cy="566.4" r="1.9" fill="#9e2428"/>
<circle cx="371.60" cy="571.4" r="1.9" fill="#9e2428"/>
<circle cx="374.70" cy="571.4" r="1.9" fill="#9e2428"/>
<circle cx="377.80" cy="571.4" r="1.9" fill="#9e2428"/>
<circle cx="372.90" cy="575.1" r="1.9" fill="#9e2428"/>
<circle cx="376.50" cy="575.1" r="1.9" fill="#9e2428"/>
<circle cx="374.70" cy="579.8" r="1.9" fill="#2c4fa3"/>
<circle cx="371.10" cy="583.6" r="1.9" fill="#2c4fa3"/>
<circle cx="374.70" cy="583.6" r="1.9" fill="#9e2428"/>
<circle cx="378.30" cy="583.6" r="1.9" fill="#2c4fa3"/>
<circle cx="369.60" cy="588.5" r="1.9" fill="#2c4fa3"/>
<circle cx="373.00" cy="588.5" r="1.9" fill="#9e2428"/>
<circle cx="376.40" cy="588.5" r="1.9" fill="#2c4fa3"/>
<circle cx="379.80" cy="588.5" r="1.9" fill="#2c4fa3"/>
<circle cx="361.10" cy="592.6" r="1.9" fill="#2c4fa3"/>
<circle cx="364.50" cy="592.6" r="1.9" fill="#2c4fa3"/>
<circle cx="367.90" cy="592.6" r="1.9" fill="#2c4fa3"/>
<circle cx="371.30" cy="592.6" r="1.9" fill="#2c4fa3"/>
<circle cx="374.70" cy="592.6" r="1.9" fill="#9e2428"/>
<circle cx="378.10" cy="592.6" r="1.9" fill="#2c4fa3"/>
<circle cx="381.50" cy="592.6" r="1.9" fill="#2c4fa3"/>
<circle cx="384.90" cy="592.6" r="1.9" fill="#2c4fa3"/>
<circle cx="388.30" cy="592.6" r="1.9" fill="#2c4fa3"/>
<circle cx="372.90" cy="597.3" r="1.9" fill="#2c4fa3"/>
<circle cx="376.50" cy="597.3" r="1.9" fill="#2c4fa3"/>
<circle cx="355.85" cy="611.3" r="1.9" fill="#2c4fa3"/>
<circle cx="359.28" cy="611.3" r="1.9" fill="#2c4fa3"/>
<circle cx="362.70" cy="611.3" r="1.9" fill="#9e2428"/>
<circle cx="366.13" cy="611.3" r="1.9" fill="#2c4fa3"/>
<circle cx="369.56" cy="611.3" r="1.9" fill="#2c4fa3"/>
<circle cx="372.99" cy="611.3" r="1.9" fill="#2c4fa3"/>
<circle cx="376.41" cy="611.3" r="1.9" fill="#2c4fa3"/>
<circle cx="379.84" cy="611.3" r="1.9" fill="#2c4fa3"/>
<circle cx="383.27" cy="611.3" r="1.9" fill="#2c4fa3"/>
<circle cx="386.70" cy="611.3" r="1.9" fill="#9e2428"/>
<circle cx="390.12" cy="611.3" r="1.9" fill="#9e2428"/>
<circle cx="393.55" cy="611.3" r="1.9" fill="#9e2428"/>
<line x1="352.5" y1="575.5" x2="397.5" y2="575.5" stroke="#333" stroke-width="1.8" opacity="0.75"/>
<g fill="#111">
<text x="264.8" y="694.8" font-size="8.5" text-anchor="middle">DNA Extraction (-)</text>
<text x="264.8" y="704.6" font-size="8.5" text-anchor="middle">0.4% SDS</text>
<text x="264.8" y="714.5" font-size="8.5" text-anchor="middle">Prime Probe Taq</text>
<text x="372.5" y="691.2" font-size="8.5" text-anchor="middle">DNA Extraction (-)</text>
<text x="372.5" y="701.5" font-size="8.5" text-anchor="middle">0.4% NL</text>
<text x="372.5" y="712.0" font-size="8.5" text-anchor="middle">Prime Probe Taq</text>
<text x="74.5" y="734.7" font-size="11.4">Number met WHO criteria</text>
<text x="74.5" y="749.2" font-size="11.4">for antiviral prophylaxis</text>
<text x="262.8" y="734.7" font-size="11.4" text-anchor="middle">17/67</text>
<text x="262.8" y="749.2" font-size="11.4" text-anchor="middle">(25.4%)</text>
<text x="371.2" y="734.7" font-size="11.4" text-anchor="middle">30/67</text>
<text x="371.2" y="749.2" font-size="11.4" text-anchor="middle">(44.8%)</text>
<circle cx="132.4" cy="821.5" r="8" fill="#b83232"/>
<text x="144.9" y="825.9" font-size="17.6" textLength="121.0" lengthAdjust="spacingAndGlyphs">HBeAg Positive</text>
<ellipse cx="296.9" cy="821.2" rx="7.6" ry="7.9" fill="#3655a8"/>
<text x="311.2" y="825.9" font-size="17.6" textLength="130.3" lengthAdjust="spacingAndGlyphs">HBeAg Negative</text>
<circle cx="70.60" cy="849" r="1.65" fill="#d22a2b"/>
<circle cx="75.92" cy="849" r="1.65" fill="#d22a2b"/>
<circle cx="81.24" cy="849" r="1.65" fill="#d22a2b"/>
<circle cx="86.56" cy="849" r="1.65" fill="#d22a2b"/>
<circle cx="91.88" cy="849" r="1.65" fill="#d22a2b"/>
<circle cx="97.20" cy="849" r="1.65" fill="#d22a2b"/>
<circle cx="102.52" cy="849" r="1.65" fill="#d22a2b"/>
<circle cx="107.84" cy="849" r="1.65" fill="#d22a2b"/>
<circle cx="113.16" cy="849" r="1.65" fill="#d22a2b"/>
<circle cx="118.48" cy="849" r="1.65" fill="#d22a2b"/>
<circle cx="123.80" cy="849" r="1.65" fill="#d22a2b"/>
<circle cx="129.12" cy="849" r="1.65" fill="#d22a2b"/>
<circle cx="134.44" cy="849" r="1.65" fill="#d22a2b"/>
<text x="149.8" y="852.2" font-size="17.6">WHO cut-off for antiviral prophylaxis for prevention of mother to child</text>
<text x="149.8" y="873.3" font-size="17.6">transmission of HBV at 200,000 IU/mL or 1.12 x 10<tspan dy="-6.5" font-size="11.5">6</tspan><tspan dy="6.5"> copies/mL</tspan></text>
</g>
</svg>
</body></html>
